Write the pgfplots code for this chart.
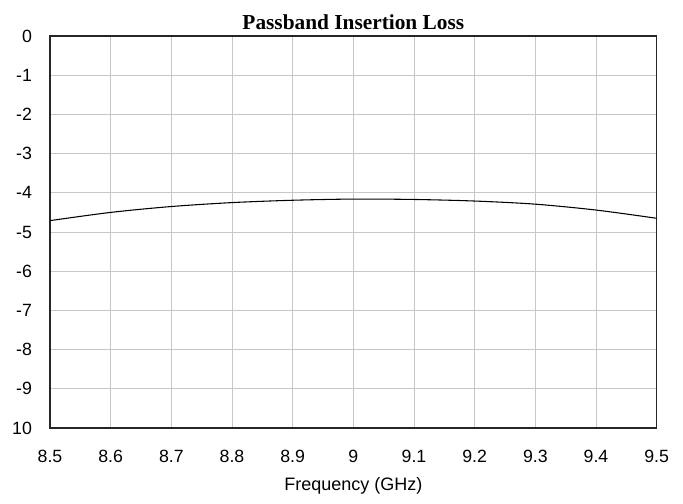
\documentclass[border=0pt]{standalone}
\usepackage{fontspec}
\setmainfont{Liberation Sans}
\newfontfamily\titlefont{Liberation Serif}
\usepackage{pgfplots}
\pgfplotsset{compat=1.18}

\begin{document}
\begin{tikzpicture}
\path[use as bounding box] (-37.5pt,-57pt) rectangle (474.75pt,321pt);
\begin{axis}[
  at={(0,0)}, anchor=south west,
  scale only axis, width=455pt, height=294pt,
  xmin=8.5, xmax=9.5, ymin=-10, ymax=0,
  xtick={8.5,8.6,...,9.5},
  xticklabels={8.5,8.6,8.7,8.8,8.9,9,9.1,9.2,9.3,9.4,9.5},
  ytick={-10,-9,...,0},
  yticklabels={10,-9,-8,-7,-6,-5,-4,-3,-2,-1,0},
  major tick length=0pt,
  grid=major,
  major grid style={draw=black!22, line width=0.6pt},
  axis line style={draw=black!85, line width=0.8pt},
  tick label style={font=\fontsize{13.3}{15}\selectfont},
  /pgf/number format/assume math mode=true,
  xticklabel style={yshift=-13pt},
  yticklabel style={xshift=-10pt},
  xlabel={Frequency (GHz)},
  xlabel style={font=\fontsize{13.5}{15}\selectfont, yshift=-4pt},
  title={\titlefont\bfseries Passband Insertion Loss},
  title style={font=\fontsize{16}{18}\selectfont, yshift=-5pt},
]
\addplot[black, line width=0.8pt, smooth, mark=none] coordinates {
  (8.5,-4.71) (8.6,-4.50) (8.7,-4.35) (8.8,-4.25) (8.9,-4.19)
  (9.0,-4.16) (9.1,-4.17) (9.2,-4.21) (9.3,-4.29) (9.4,-4.44) (9.5,-4.65)
};
\end{axis}
\end{tikzpicture}
\end{document}
